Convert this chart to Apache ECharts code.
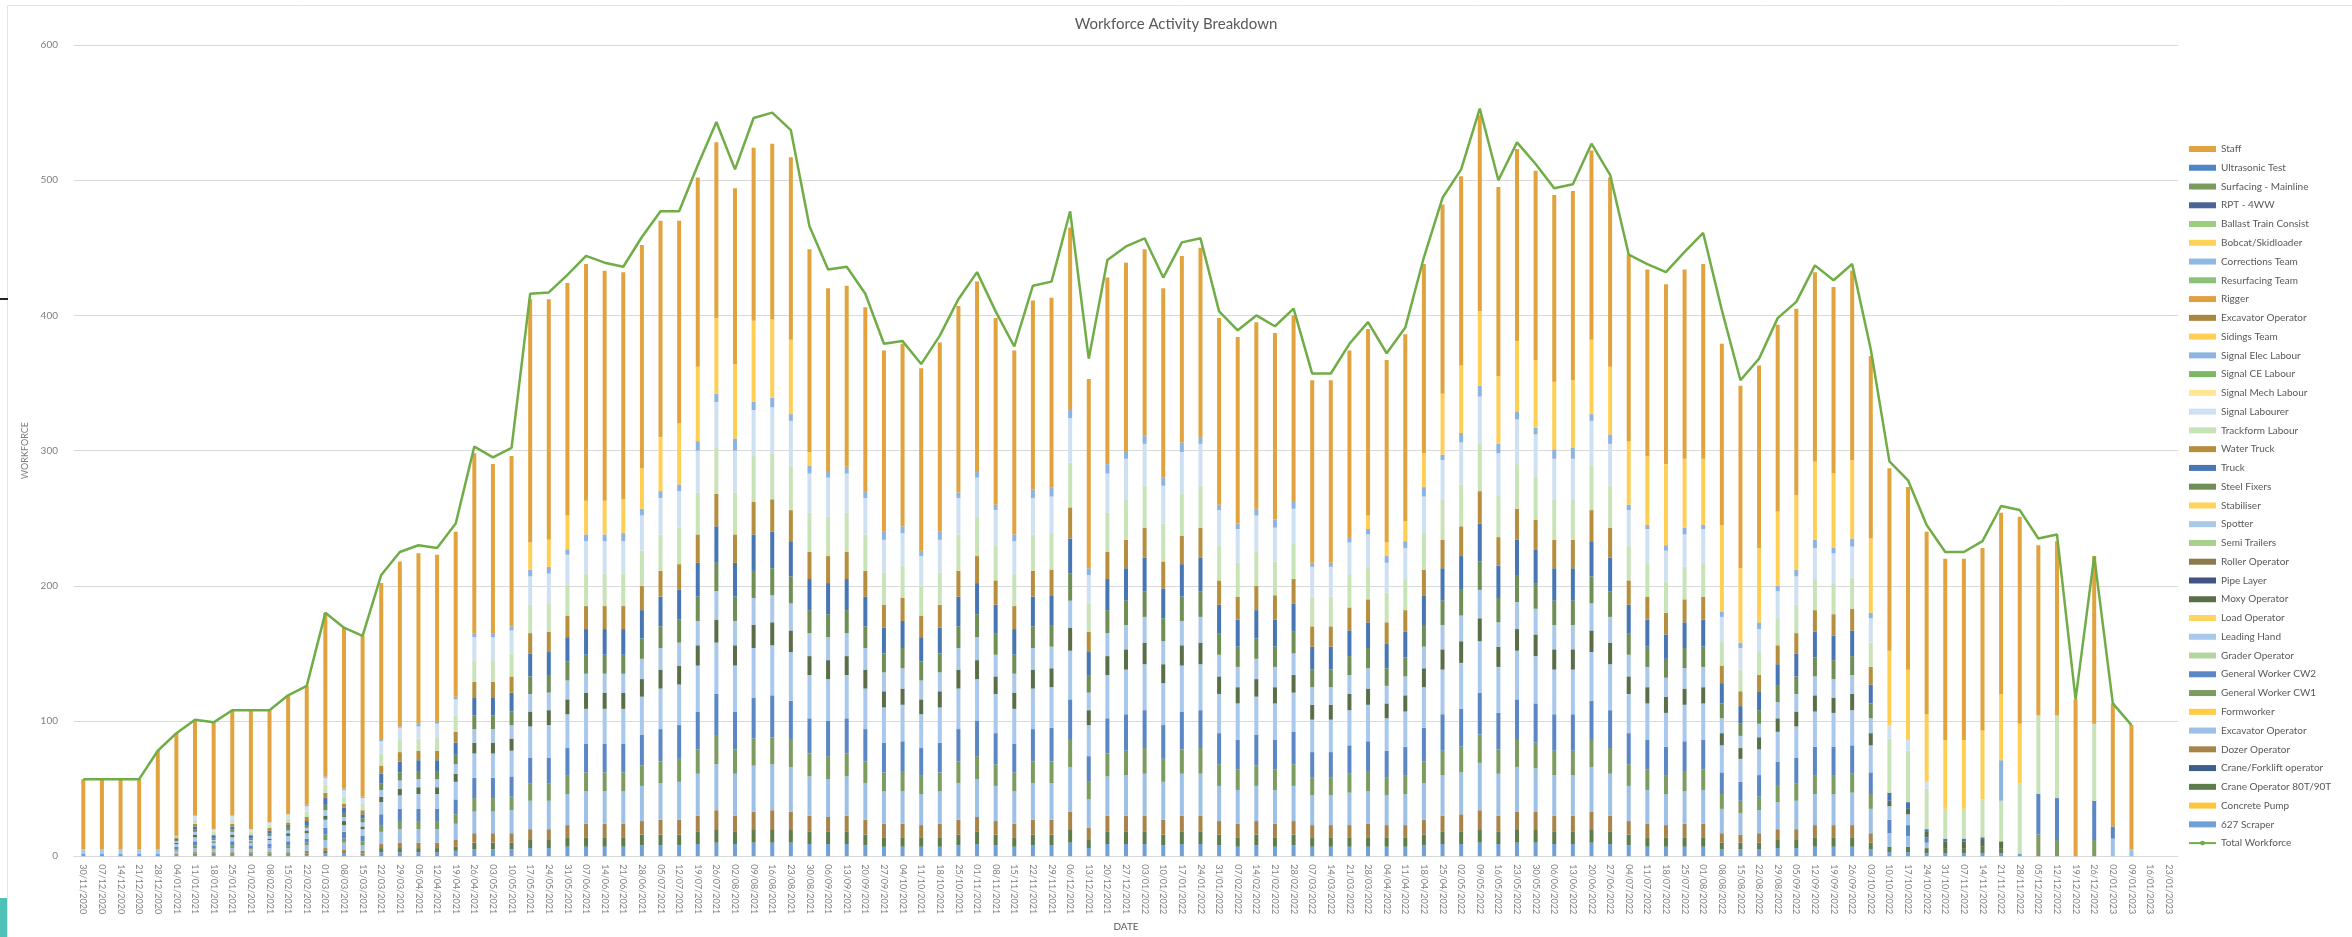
<!DOCTYPE html>
<html><head><meta charset="utf-8">
<script src="https://cdn.jsdelivr.net/npm/echarts@6/dist/echarts.min.js"></script>
<style>html,body{margin:0;padding:0;background:#fff}#c{width:2352px;height:937px}</style>
</head><body><div id="c"></div>
<script>
const categories = ['30/11/2020','07/12/2020','14/12/2020','21/12/2020','28/12/2020',
'04/01/2021','11/01/2021','18/01/2021','25/01/2021','01/02/2021','08/02/2021','15/02/2021','22/02/2021','01/03/2021','08/03/2021','15/03/2021','22/03/2021','29/03/2021','05/04/2021','12/04/2021','19/04/2021','26/04/2021','03/05/2021','10/05/2021','17/05/2021','24/05/2021','31/05/2021','07/06/2021','14/06/2021','21/06/2021','28/06/2021','05/07/2021','12/07/2021','19/07/2021','26/07/2021','02/08/2021','09/08/2021','16/08/2021','23/08/2021','30/08/2021','06/09/2021','13/09/2021','20/09/2021','27/09/2021','04/10/2021','11/10/2021','18/10/2021','25/10/2021','01/11/2021','08/11/2021','15/11/2021','22/11/2021','29/11/2021','06/12/2021','13/12/2021','20/12/2021','27/12/2021',
'03/01/2022','10/01/2022','17/01/2022','24/01/2022','31/01/2022','07/02/2022','14/02/2022','21/02/2022','28/02/2022','07/03/2022','14/03/2022','21/03/2022','28/03/2022','04/04/2022','11/04/2022','18/04/2022','25/04/2022','02/05/2022','09/05/2022','16/05/2022','23/05/2022','30/05/2022','06/06/2022','13/06/2022','20/06/2022','27/06/2022','04/07/2022','11/07/2022','18/07/2022','25/07/2022','01/08/2022','08/08/2022','15/08/2022','22/08/2022','29/08/2022','05/09/2022','12/09/2022','19/09/2022','26/09/2022','03/10/2022','10/10/2022','17/10/2022','24/10/2022','31/10/2022','07/11/2022','14/11/2022','21/11/2022','28/11/2022','05/12/2022','12/12/2022','19/12/2022','26/12/2022',
'02/01/2023','09/01/2023','16/01/2023','23/01/2023'];

const yTicks = [0,100,200,300,400,500,600];

const totalWorkforce = [57,57,57,57,78,91,101,99,108,108, 108,119,126,180,169,163,208,225,230,228, 246,303,295,302,416,417,430,444,439,436, 458,477,477,511,543,508,546,550,537,466, 434,436,416,379,381,364,385,412,432,403, 377,422,425,477,368,441,451,457,428,454, 457,403,389,400,392,405,357,357,379,395, 372,391,443,487,508,553,500,528,512,494, 497,527,504,445,438,432,447,461,404,352, 368,398,410,437,426,438,375,292,278,245, 225,225,233,259,256,235,238,116,222,113,97];

const staff = [52,52,52,52,73,76,71,79,78,88, 83,88,88,121,119,119,116,122,126,123, 122,133,125,126,180,178,172,175,170,168, 165,160,150,140,130,130,128,130,135,150, 135,134,136,134,135,135,140,138,140,138, 136,140,140,135,140,138,140,138,140,138, 140,138,138,138,138,138,135,135,138,138, 135,138,140,140,140,145,140,142,140,138, 140,140,140,138,138,133,140,144,134,135, 135,138,138,140,138,140,135,135,135,135, 134,134,135,134,153,126,129,116,124,91,92];

const sidingsTeam = [0,0,0,0,0,0,0,0,0,0, 0,0,0,0,0,0,0,0,0,0, 0,0,0,0,20,20,25,25,25,25, 30,40,45,55,56,55,60,58,55,10, 0,0,0,0,0,0,0,0,0,0, 0,0,0,0,0,0,0,0,0,0, 0,0,0,0,0,0,0,0,0,10, 10,15,25,45,50,55,50,52,50,50, 50,55,50,47,51,60,51,49,64,55, 55,55,55,58,55,58,55,55,52,50, 51,51,51,49,44,0,0,0,0,0,0];

const scraper627 = [2,2,2,2,2,1,1,1,1,1, 1,1,1,2,2,1,3,3,3,3, 4,5,5,5,6,6,7,7,7,7, 8,8,8,9,10,9,10,10,10,9, 9,9,8,7,7,7,7,8,9,8, 7,8,8,10,6,9,9,9,8,9, 9,8,7,8,7,8,7,7,7,7, 7,7,8,9,9,10,9,10,10,9, 9,10,9,8,7,7,7,7,5,5, 5,6,6,7,7,7,5,3,3,2, 2,2,2,2,2,0,0,0,0,0,0];
const craneOp8090 = [0,0,0,0,0,0,1,1,1,1, 1,1,1,2,1,1,3,3,3,3, 3,5,5,5,6,6,7,7,7,7, 8,8,8,9,10,9,10,10,10,9, 9,9,8,7,7,7,7,8,9,8, 7,8,8,10,6,9,9,9,8,9, 9,8,7,8,7,8,7,7,7,7, 7,7,8,9,9,10,9,10,10,9, 9,10,9,8,7,7,7,7,5,5, 5,6,6,7,7,7,5,4,4,4, 4,4,5,4,0,0,0,0,0,0,0];
const dozerOp = [0,0,0,0,0,1,1,1,1,1, 1,1,2,2,2,2,3,4,4,4, 5,7,7,7,8,8,9,10,10,10, 10,11,11,12,14,12,13,14,13,12, 11,12,11,10,10,9,10,11,11,10, 10,11,11,13,9,12,12,12,11,12, 12,10,10,10,10,10,9,9,9,10, 9,9,11,12,13,14,12,13,13,12, 12,13,12,10,10,9,10,10,7,6, 7,8,8,9,9,9,7,0,0,0, 0,0,0,0,0,0,0,0,0,0,0];
const excavatorOpB = [0,0,0,0,0,2,3,2,3,2, 3,3,4,6,5,4,9,10,10,10, 12,16,16,17,21,21,23,24,24,24, 26,27,28,31,34,31,34,34,33,29, 28,29,27,24,24,23,24,27,28,26, 24,27,27,33,21,29,30,31,28,31, 31,26,25,26,25,26,22,22,24,24, 22,23,27,30,31,35,31,33,32,30, 30,33,31,26,25,23,24,25,18,16, 17,20,21,23,23,24,18,10,8,4, 0,0,0,0,0,0,0,0,0,13,5];
const gwCW1 = [0,0,0,0,0,1,2,1,2,1, 1,2,2,4,3,3,5,6,6,6, 7,10,10,10,13,13,14,14,14,14, 15,16,17,18,21,18,20,20,20,17, 17,17,16,14,15,14,14,16,17,16, 14,16,16,20,13,17,18,19,17,18, 19,16,15,15,15,16,13,13,14,15, 13,14,16,18,19,21,18,20,19,18, 18,20,19,16,15,14,15,15,11,9, 10,12,13,14,14,14,11,0,0,0, 0,0,0,0,0,16,12,0,12,0,0];
const gwCW2 = [0,0,0,0,0,2,3,2,3,2, 2,3,3,5,5,4,8,9,9,9, 11,15,15,15,19,19,20,21,21,21, 23,24,25,28,31,28,30,31,29,26, 26,26,24,22,22,20,22,24,26,23, 21,24,25,30,19,26,27,28,25,28, 28,23,22,23,22,24,19,19,21,22, 20,21,25,27,28,31,27,30,29,27, 27,29,28,23,22,21,22,22,16,14, 16,18,19,21,21,21,16,10,8,4, 0,0,0,0,0,30,31,0,29,9,0];
const leadingHand = [3,3,3,3,3,2,3,2,3,2, 3,4,4,6,5,5,9,10,11,11, 13,18,18,19,23,24,25,26,26,26, 28,30,30,34,38,34,37,37,36,32, 31,32,30,26,27,25,26,30,31,29, 26,30,30,36,23,32,33,34,31,34, 34,29,27,28,27,29,24,24,26,27, 24,26,30,33,34,38,34,36,35,33, 33,36,34,29,27,25,27,27,20,17, 19,22,23,26,25,26,20,10,8,0, 0,0,0,0,0,0,0,0,0,0,0];
const moxyOp = [0,0,0,0,0,1,2,1,2,1, 1,2,2,3,3,2,4,5,5,5, 6,8,8,9,11,11,11,12,12,12, 13,14,14,15,17,15,17,17,16,14, 14,14,14,12,12,11,12,14,14,13, 12,14,14,17,11,14,15,16,14,15, 16,13,12,13,12,13,11,11,12,12, 11,12,14,15,16,17,15,16,16,15, 15,16,16,13,12,12,12,12,9,8, 9,10,11,12,11,12,9,4,4,4, 5,5,5,5,0,0,0,0,0,0,0];
const spotter = [0,0,0,0,0,1,2,1,2,1, 2,2,2,4,3,3,5,6,6,6, 7,10,10,10,13,13,14,14,14,14, 15,16,17,18,21,18,20,20,20,17, 17,17,16,14,15,14,14,16,17,16, 14,16,16,20,13,17,18,19,17,18, 19,16,15,15,15,16,13,13,14,15, 13,14,16,18,19,21,18,20,19,18, 18,20,19,16,15,14,15,15,11,9, 10,12,13,14,14,14,11,0,0,0, 0,0,0,0,0,0,0,0,0,0,0];
const steelFixers = [0,0,0,0,0,1,2,1,2,1, 2,2,2,4,3,3,5,6,6,6, 7,10,10,10,13,13,14,14,14,14, 15,16,17,18,21,18,20,20,20,17, 17,17,16,14,15,14,14,16,17,16, 14,16,16,20,13,17,18,19,17,18, 19,16,15,15,15,16,13,13,14,15, 13,14,16,18,19,21,18,20,19,18, 18,20,19,16,15,14,15,15,11,9, 10,12,13,14,14,14,11,0,0,0, 0,0,0,0,0,0,0,0,0,0,0];
const truck = [0,0,0,0,0,1,2,2,2,2, 2,2,3,5,4,3,7,8,8,8, 9,13,13,14,17,17,18,19,19,19, 21,22,22,25,27,25,27,27,26,23, 23,23,22,19,20,18,19,22,23,21, 19,22,22,26,17,23,24,25,22,24, 25,21,20,21,20,21,17,17,19,19, 18,19,22,24,25,28,24,26,25,24, 24,26,25,21,20,18,19,20,15,13, 14,16,17,19,18,19,14,6,5,2, 2,2,2,0,0,0,0,0,0,0,0];
const waterTruck = [0,0,0,0,0,1,2,1,2,1, 2,2,3,4,3,3,6,7,7,7, 8,12,12,12,15,15,16,17,17,17, 18,19,19,21,24,21,24,24,23,20, 20,20,19,17,17,16,17,19,20,18, 17,19,19,23,15,20,21,22,20,21, 22,18,17,18,18,18,15,15,17,17, 16,16,19,21,22,24,21,23,22,21, 21,23,22,18,17,16,17,17,13,11, 12,14,15,16,16,16,13,0,0,0, 0,0,0,0,0,0,0,0,0,0,0];
const trackformLabour = [0,0,0,0,0,1,3,2,3,2, 2,3,4,6,5,5,9,9,9,10, 12,16,16,17,21,21,23,24,24,24, 26,27,27,31,34,31,34,34,33,29, 29,29,27,24,24,22,24,27,29,26, 24,27,27,33,21,29,30,31,28,31, 31,26,25,26,25,26,22,22,24,24, 22,23,27,30,31,35,31,33,32,30, 30,33,31,26,25,23,24,25,18,16, 17,20,21,23,23,23,18,40,38,30, 22,22,28,30,52,58,61,0,57,0,0];
const signalLabourer = [0,0,0,0,0,0,3,2,3,2, 2,3,4,5,5,4,9,9,9,10, 12,17,17,17,21,22,22,24,24,24, 26,27,27,31,34,31,34,34,33,29, 29,29,27,24,24,22,24,27,29,26, 24,27,27,33,21,29,30,31,28,31, 31,26,25,26,25,26,22,22,24,24, 22,23,27,29,31,35,31,33,31,30, 30,33,31,26,25,23,24,25,18,16, 17,20,21,23,22,23,18,10,8,5, 0,0,0,0,0,0,0,0,0,0,0];
const signalElecLabour = [0,0,0,0,0,0,0,0,0,0, 0,0,1,1,1,1,1,1,2,2, 2,3,3,3,5,5,4,5,5,6, 5,5,5,7,6,9,6,7,5,6, 5,5,5,6,5,4,6,4,5,4, 5,6,7,6,5,7,5,6,6,7, 5,4,4,5,6,5,3,3,4,4, 5,5,7,4,7,8,7,6,5,7, 8,5,7,4,3,4,5,3,4,4, 5,4,5,6,4,6,4,0,0,0, 0,0,0,30,0,0,0,0,0,0,0];
const concretePump = [], craneForklift = [], formworker = [], graderOp = [], loadOp = [], pipeLayer = [],
      rollerOp = [], semiTrailers = [], stabiliser = [], signalMech = [], signalCE = [], excavatorOpA = [],
      rigger = [], resurfacing = [], corrections = [], bobcat = [], ballastTrain = [], rpt4ww = [],
      surfacing = [], ultrasonic = [];

// stack order, bottom to top
const barSeries = [
  ['627 Scraper', scraper627, '#6FA0D8'],
  ['Concrete Pump', concretePump, '#FFC53D'],
  ['Crane Operator 80T/90T', craneOp8090, '#5E7D4C'],
  ['Crane/Forklift operator', craneForklift, '#3E5F8E'],
  ['Dozer Operator', dozerOp, '#A9844A'],
  ['Excavator Operator ', excavatorOpB, '#9DC0E6'],
  ['Formworker', formworker, '#FFCC44'],
  ['General Worker CW1', gwCW1, '#7C9C60'],
  ['General Worker CW2', gwCW2, '#5B87C5'],
  ['Grader Operator', graderOp, '#B5D59E'],
  ['Leading Hand', leadingHand, '#A8C8EC'],
  ['Load Operator', loadOp, '#FFD560'],
  ['Moxy Operator', moxyOp, '#5A6E48'],
  ['Pipe Layer', pipeLayer, '#3F5480'],
  ['Roller Operator', rollerOp, '#8C7A4E'],
  ['Semi Trailers', semiTrailers, '#A8D08D'],
  ['Spotter', spotter, '#A9C8EA'],
  ['Stabiliser', stabiliser, '#FFD35A'],
  ['Steel Fixers', steelFixers, '#6F8F56'],
  ['Truck', truck, '#4777B3'],
  ['Water Truck', waterTruck, '#B58E3E'],
  ['Trackform Labour', trackformLabour, '#C9E3B8'],
  ['Signal Labourer', signalLabourer, '#CFE0F3'],
  ['Signal Mech Labour', signalMech, '#FFE796'],
  ['Signal CE Labour', signalCE, '#7DB865'],
  ['Signal Elec Labour', signalElecLabour, '#8DB4E0'],
  ['Sidings Team', sidingsTeam, '#FFCF55'],
  ['Excavator Operator', excavatorOpA, '#A8873E'],
  ['Rigger', rigger, '#E0A040'],
  ['Resurfacing Team', resurfacing, '#8DC07A'],
  ['Corrections Team', corrections, '#8FB8E2'],
  ['Bobcat/Skidloader', bobcat, '#FFD258'],
  ['Ballast Train Consist', ballastTrain, '#9ACD7E'],
  ['RPT - 4WW', rpt4ww, '#4A6494'],
  ['Surfacing - Mainline', surfacing, '#7A9B5E'],
  ['Ultrasonic Test', ultrasonic, '#4F86C6'],
  ['Staff', staff, '#E0A33E']
];

const FONT = 'Lato, "Open Sans", sans-serif';
const series = barSeries.map(([name, data, color]) => ({
  name, type: 'bar', stack: 'w', data, barWidth: 4,
  itemStyle: { color }, emphasis: { disabled: true }
}));
series.push({
  name: 'Total Workforce', type: 'line', data: totalWorkforce, symbol: 'none',
  lineStyle: { color: '#70AD47', width: 2.5 }, itemStyle: { color: '#70AD47' }, z: 5
});

const legendData = barSeries.slice().reverse().map(s => ({ name: s[0], icon: 'rect' }));
legendData.push({ name: 'Total Workforce' });

const chart = echarts.init(document.getElementById('c'));
chart.setOption({
  animation: false,
  backgroundColor: '#fff',
  textStyle: { fontFamily: FONT },
  title: { text: 'Workforce Activity Breakdown', left: 'center', top: 12,
    textStyle: { fontSize: 15, fontWeight: 'normal', color: '#595959', fontFamily: FONT } },
  grid: { left: 74, right: 174, top: 45, bottom: 73 },
  legend: { orient: 'vertical', left: 2183, top: 137, itemWidth: 27, itemHeight: 6, itemGap: 4.76,
    textStyle: { fontSize: 10, color: '#595959', lineHeight: 14, fontFamily: FONT }, data: legendData },
  xAxis: {
    type: 'category', data: categories, name: 'DATE', nameLocation: 'middle', nameGap: 62,
    nameTextStyle: { fontSize: 10, color: '#595959' },
    axisLine: { lineStyle: { color: '#D9D9D9' } }, axisTick: { show: false },
    axisLabel: { rotate: -90, interval: 0, fontSize: 9, color: '#7F7F7F', margin: 8 }
  },
  yAxis: {
    type: 'value', min: yTicks[0], max: yTicks[yTicks.length - 1], interval: 100,
    name: 'WORKFORCE', nameLocation: 'middle', nameRotate: 90, nameGap: 41,
    nameTextStyle: { fontSize: 9, color: '#7F7F7F' },
    axisLabel: { fontSize: 10, color: '#7F7F7F', margin: 16 },
    axisLine: { show: false }, axisTick: { show: false },
    splitLine: { lineStyle: { color: '#D9D9D9', width: 1 } }
  },
  graphic: [
    { type: 'rect', shape: { x: 7.5, y: 5.5, width: 2350, height: 940 }, style: { fill: 'none', stroke: '#E3E3E3', lineWidth: 1 }, silent: true },
    { type: 'rect', shape: { x: 0, y: 898, width: 7, height: 39 }, style: { fill: '#4FC1B6' }, silent: true },
    { type: 'rect', shape: { x: 0, y: 298, width: 8, height: 2 }, style: { fill: '#222' }, silent: true }
  ],
  series
});
</script></body></html>
